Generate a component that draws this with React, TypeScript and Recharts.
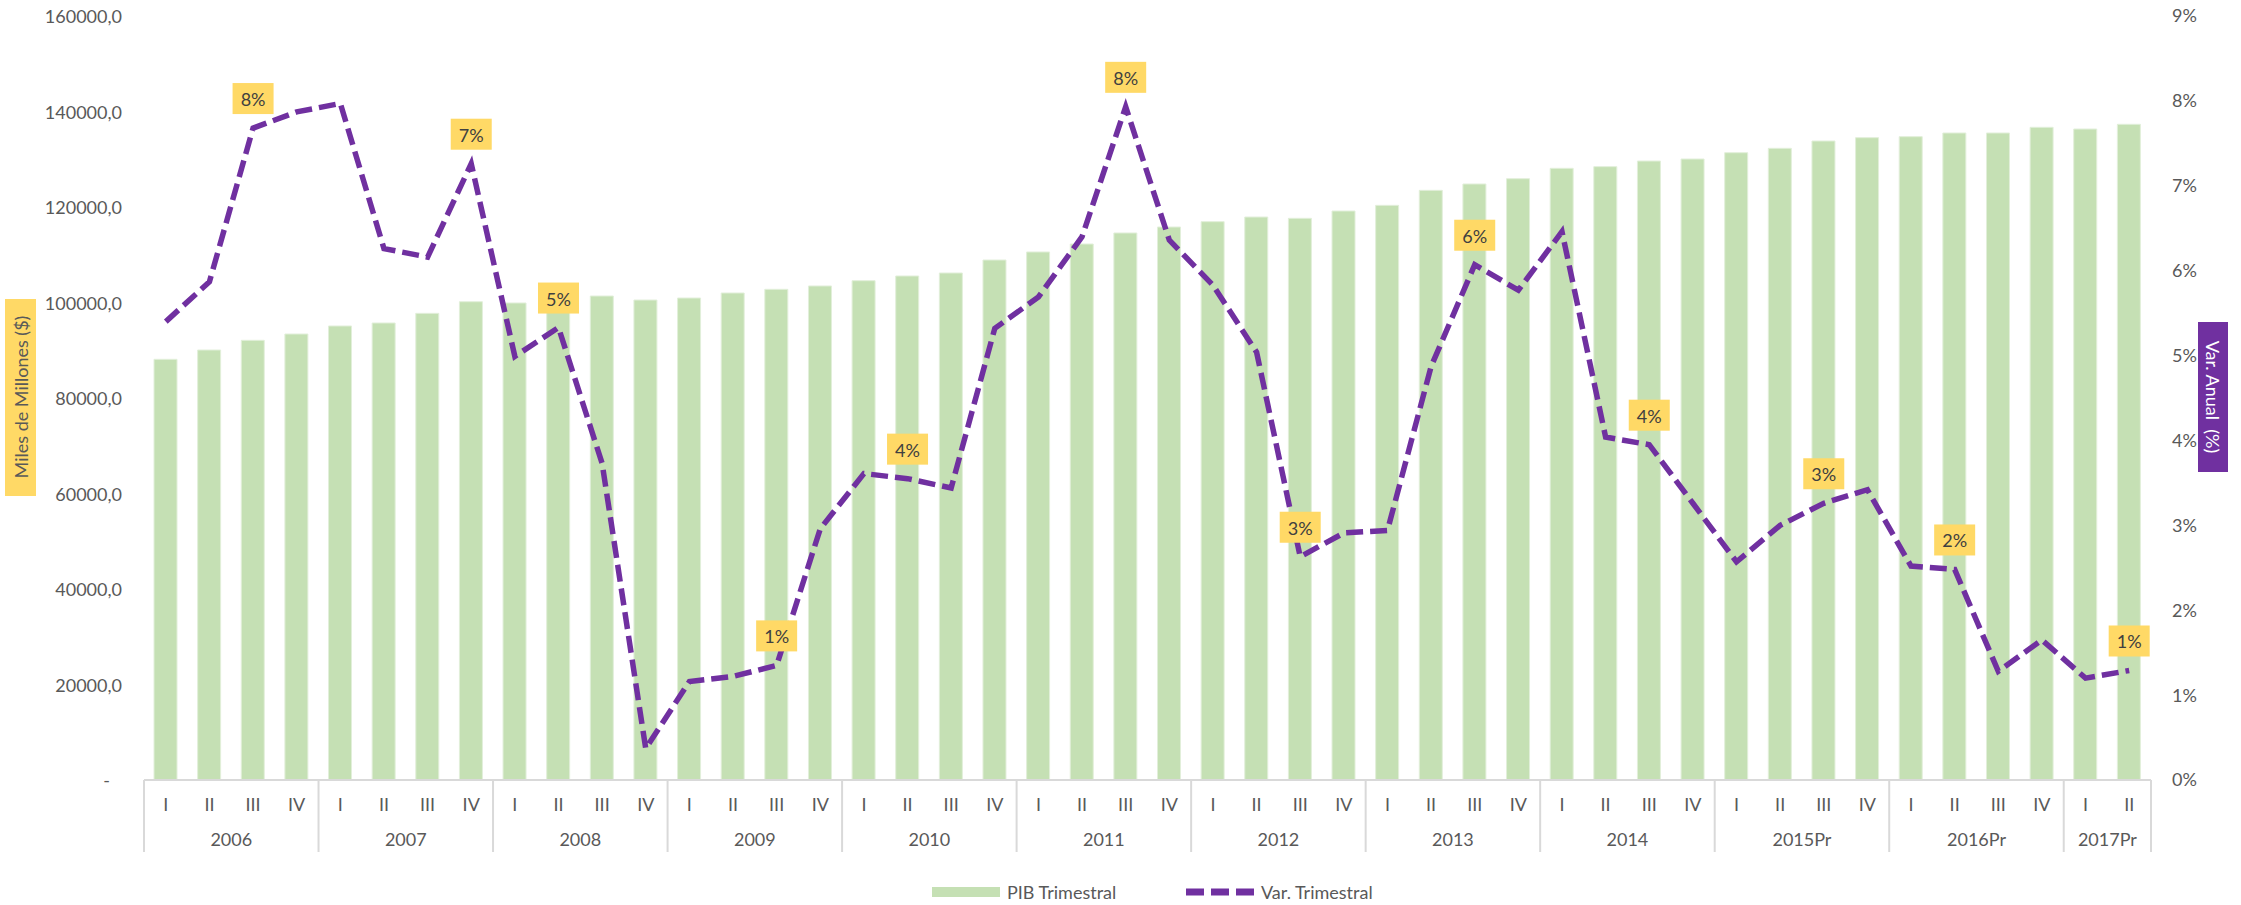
import React from "react";
import { ComposedChart, Bar, Line, XAxis, YAxis, LabelList } from "recharts";

const YEARS = ["2006", "2007", "2008", "2009", "2010", "2011", "2012", "2013", "2014", "2015Pr", "2016Pr", "2017Pr"];
const QUARTERS_PER_YEAR = [4, 4, 4, 4, 4, 4, 4, 4, 4, 4, 4, 2];
const QUARTER_NAMES = ["I", "II", "III", "IV"];

// PIB trimestral (miles de millones)
const PIB = [
  88100, 90050, 92080, 93400, 95080, 95710, 97730, 100170, 99900, 100700, 101360, 100520,
  100940, 101990, 102760, 103460, 104570, 105550, 106180, 108900, 110580, 112250, 114560, 115810,
  116930, 117900, 117630, 119160, 120350, 123490, 124820, 125930, 128100, 128450, 129630, 130050,
  131370, 132290, 133820, 134520, 134730, 135500, 135500, 136690, 136330, 137320,
];

// Var. trimestral (%)
const VAR = [
  5.4, 5.87, 7.68, 7.87, 7.97, 6.26, 6.16, 7.26, 4.99, 5.33, 3.73, 0.37,
  1.16, 1.22, 1.35, 2.96, 3.61, 3.55, 3.44, 5.32, 5.69, 6.4, 7.93, 6.36,
  5.83, 5.04, 2.63, 2.91, 2.94, 4.87, 6.07, 5.77, 6.46, 4.04, 3.95, 3.26,
  2.57, 3.0, 3.26, 3.42, 2.52, 2.48, 1.28, 1.65, 1.2, 1.29,
];

// points that carry a yellow label
const LABELED = [2, 7, 9, 14, 17, 22, 26, 30, 34, 38, 41, 45];

const LEFT_TICKS = [0, 20000, 40000, 60000, 80000, 100000, 120000, 140000, 160000];
const RIGHT_TICKS = [0, 1, 2, 3, 4, 5, 6, 7, 8, 9];

const W = 2241;
const H = 905;
const FONT = "Lato, 'Open Sans', sans-serif";
const TEXT = "#595959";
const GREEN = "#C5E0B4";
const PURPLE = "#7030A0";
const YELLOW = "#FFD966";
const GRID = "#D9D9D9";
const PLOT_L = 144;
const PLOT_R = 2151;

const rows: { q: string; year: string; pib: number; v: number }[] = [];
const groups: Record<number, { year: string; size: number }> = {};
YEARS.forEach((y, yi) => {
  groups[rows.length] = { year: y, size: QUARTERS_PER_YEAR[yi] };
  for (let k = 0; k < QUARTERS_PER_YEAR[yi]; k++) {
    const i = rows.length;
    rows.push({ q: QUARTER_NAMES[k], year: y, pib: PIB[i], v: VAR[i] });
  }
});
const BAND = (PLOT_R - PLOT_L) / rows.length;

const QuarterTick = (props: any) => {
  const { x, y, payload, index } = props;
  const g = groups[index];
  const last = index === rows.length - 1;
  return (
    <g>
      <text x={x} y={y + 24} textAnchor="middle" dominantBaseline="central" fill={TEXT} fontSize={18} fontFamily={FONT}>
        {payload.value}
      </text>
      {g && (
        <>
          <line x1={x - BAND / 2} x2={x - BAND / 2} y1={y} y2={y + 72} stroke={GRID} strokeWidth={2} />
          <text x={x + ((g.size - 1) * BAND) / 2} y={y + 59} textAnchor="middle" dominantBaseline="central" fill={TEXT} fontSize={18} fontFamily={FONT}>
            {g.year}
          </text>
        </>
      )}
      {last && <line x1={x + BAND / 2} x2={x + BAND / 2} y1={y} y2={y + 72} stroke={GRID} strokeWidth={2} />}
    </g>
  );
};

const LeftTick = (props: any) => {
  const { x, y, payload } = props;
  const v = payload.value;
  return (
    <text x={v === 0 ? x - 12 : x} y={y} textAnchor="end" dominantBaseline="central" fill={TEXT} fontSize={18} fontFamily={FONT}>
      {v === 0 ? "-" : `${v},0`}
    </text>
  );
};

const PointLabel = (props: any) => {
  const { x, y, value, index } = props;
  if (!LABELED.includes(index)) return null;
  return (
    <g>
      <rect x={x - 20.5} y={y - 45} width={41} height={31} fill={YELLOW} />
      <text x={x} y={y - 29} textAnchor="middle" dominantBaseline="central" fill="#404040" fontSize={18} fontFamily={FONT}>
        {`${Math.round(value)}%`}
      </text>
    </g>
  );
};

const LeftTitle = () => (
  <g>
    <rect x={5} y={299} width={31} height={197} fill={YELLOW} />
    <text
      x={21}
      y={397}
      transform="rotate(-90 21 397)"
      textAnchor="middle"
      dominantBaseline="central"
      fill={TEXT}
      fontSize={18}
      fontFamily={FONT}
    >
      Miles de Millones ($)
    </text>
  </g>
);

const RightTitle = () => (
  <g>
    <rect x={2198} y={322} width={30} height={150} fill={PURPLE} />
    <text
      x={2213}
      y={397}
      transform="rotate(90 2213 397)"
      textAnchor="middle"
      dominantBaseline="central"
      fill="#FFFFFF"
      fontSize={18}
      fontFamily={FONT}
      style={{ whiteSpace: "pre" }}
    >
      Var. Anual  (%)
    </text>
  </g>
);

export default function App() {
  return (
    <div style={{ position: "absolute", left: 0, top: 0, width: W, height: H, background: "#fff" }}>
      <ComposedChart width={W} height={H} data={rows} margin={{ top: 16, right: 30, bottom: 50, left: 40 }}>
        <XAxis
          dataKey="q"
          interval={0}
          height={75}
          tickLine={false}
          tickSize={0}
          tickMargin={0}
          axisLine={{ stroke: GRID, strokeWidth: 2 }}
          tick={<QuarterTick />}
        />
        <YAxis
          yAxisId="left"
          orientation="left"
          width={104}
          domain={[0, 160000]}
          ticks={LEFT_TICKS}
          axisLine={false}
          tickLine={false}
          tickSize={0}
          tickMargin={22}
          tick={<LeftTick />}
          label={{ content: () => <LeftTitle /> }}
        />
        <YAxis
          yAxisId="right"
          orientation="right"
          width={60}
          domain={[0, 9]}
          ticks={RIGHT_TICKS}
          axisLine={false}
          tickLine={false}
          tickSize={0}
          tickMargin={21}
          tickFormatter={(v: number) => `${v}%`}
          tick={{ fill: TEXT, fontSize: 18, fontFamily: FONT, textAnchor: "start" }}
          label={{ content: () => <RightTitle /> }}
        />
        <Bar
          yAxisId="left"
          dataKey="pib"
          name="PIB Trimestral"
          fill={GREEN}
          stroke="#E2EFDA"
          strokeWidth={1}
          barSize={23}
          isAnimationActive={false}
        />
        <Line
          yAxisId="right"
          dataKey="v"
          name="Var. Trimestral"
          type="linear"
          stroke={PURPLE}
          strokeWidth={5.5}
          strokeDasharray="17 7"
          dot={false}
          activeDot={false}
          isAnimationActive={false}
        >
          <LabelList dataKey="v" content={<PointLabel />} />
        </Line>
      </ComposedChart>
      <div style={{ position: "absolute", left: 932, top: 887, width: 68, height: 10, background: GREEN }} />
      <div style={{ position: "absolute", left: 1007, top: 880, fontFamily: FONT, fontSize: 18, color: TEXT, lineHeight: "24px" }}>
        PIB Trimestral
      </div>
      <svg style={{ position: "absolute", left: 1186, top: 888 }} width={68} height={8}>
        <line x1={0} y1={4} x2={68} y2={4} stroke={PURPLE} strokeWidth={7} strokeDasharray="18 7" />
      </svg>
      <div style={{ position: "absolute", left: 1261, top: 880, fontFamily: FONT, fontSize: 18, color: TEXT, lineHeight: "24px" }}>
        Var. Trimestral
      </div>
    </div>
  );
}
